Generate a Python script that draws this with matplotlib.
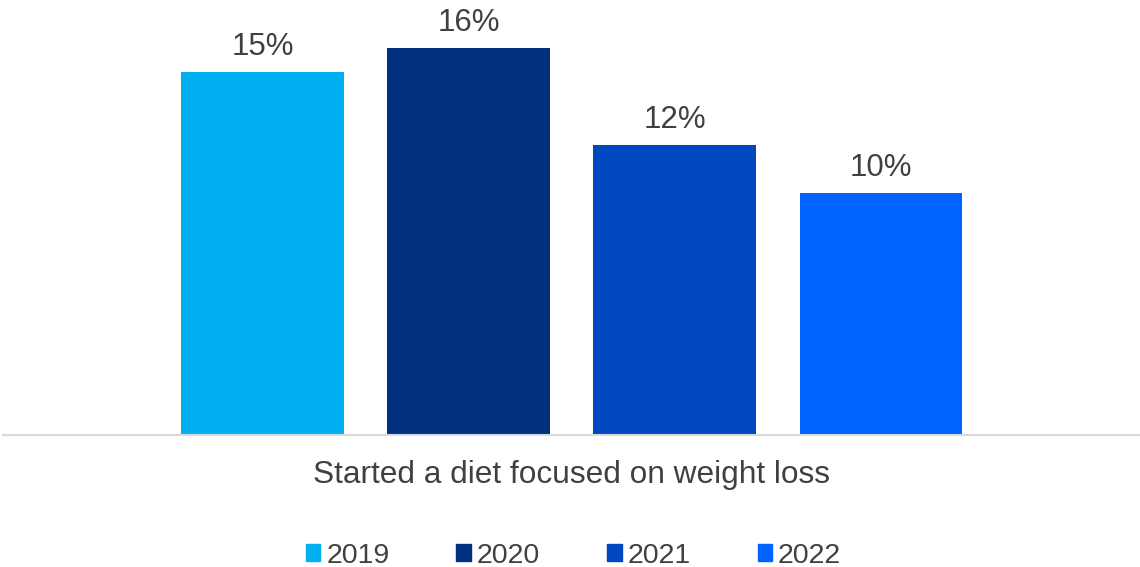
import matplotlib.pyplot as plt
from matplotlib.patches import Patch

plt.rcParams['font.family'] = ['Liberation Sans', 'DejaVu Sans']

years = ['2019', '2020', '2021', '2022']
shares = [15, 16, 12, 10]
category = 'Started a diet focused on weight loss'
colors = ['#00B0F0', '#00307F', '#0048BE', '#0062FF']
text_color = '#404040'

fig = plt.figure(figsize=(11.4, 5.67), dpi=100)
ax = fig.add_axes([0.003, 0.2328, 0.997, 0.7672])

positions = [i - 1.5 for i in range(len(years))]
bars = ax.bar(positions, shares, width=0.79, color=colors)

for bar, val in zip(bars, shares):
    ax.text(bar.get_x() + bar.get_width() / 2, val + 0.4, f'{val}%',
            ha='center', va='bottom', fontsize=22.5, color=text_color)

ax.set_xlim(-2.756, 2.756)
ax.set_ylim(0, 17.97)
ax.set_xticks([0])
ax.set_xticklabels([category], fontsize=22.8, color=text_color)
ax.tick_params(axis='x', length=0, pad=18)
ax.set_yticks([])
for side in ['top', 'right', 'left']:
    ax.spines[side].set_visible(False)
ax.spines['bottom'].set_color('#D9D9D9')
ax.spines['bottom'].set_linewidth(1.5)

handles = [Patch(color=c, label=y) for c, y in zip(colors, years)]
fig.legend(handles=handles, loc='center', bbox_to_anchor=(0.503, 0.02),
           ncol=4, frameon=False, fontsize=20.5, handlelength=0.52,
           handleheight=0.52, handletextpad=0.2, columnspacing=2.35,
           labelcolor=text_color)

fig.savefig('out.png', dpi=100, facecolor='white')
